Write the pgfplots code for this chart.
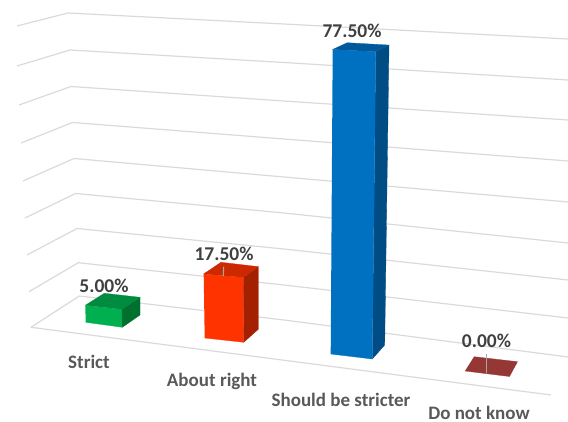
\documentclass[border=0pt]{standalone}
\usepackage{fontspec}
\setmainfont{Carlito}
\usepackage{pgfplots}
\pgfplotsset{compat=1.18}
\definecolor{gridc}{HTML}{DADADA}
\definecolor{catc}{HTML}{595959}
\definecolor{valc}{HTML}{404040}
\definecolor{leader}{HTML}{A6A6A6}
\definecolor{gF}{HTML}{00B050}
\definecolor{gT}{HTML}{008C40}
\definecolor{gS}{HTML}{00702F}
\definecolor{oF}{HTML}{FF3300}
\definecolor{oT}{HTML}{CC2900}
\definecolor{oS}{HTML}{A32100}
\definecolor{bF}{HTML}{0070C0}
\definecolor{bT}{HTML}{00599A}
\definecolor{bS}{HTML}{004C84}
\definecolor{rF}{HTML}{953735}
\pgfplotsset{
  face/.style={fill=#1, draw=#1, line width=0.3pt},
  grid wall/.style={gridc, line width=1.2pt, no markers},
  /pgfplots/table/vertex/.style={x=x, y expr=\thisrow{y0}-\thisrow{v}*\thisrow{k}},
}
\newcommand{\vallabel}[3]{\node[inner sep=0pt, font=\fontsize{19.5}{21}\selectfont\bfseries, text=valc] at (axis cs:#1,#2) {#3};}
\newcommand{\catlabel}[3]{\node[inner sep=0pt, font=\fontsize{19}{21}\selectfont\bfseries, text=catc] at (axis cs:#1,#2) {#3};}
\begin{document}
\begin{tikzpicture}
\path[use as bounding box] (0,0) rectangle (568pt,422pt);
\begin{axis}[
  at={(0,0)}, anchor=south west,
  scale only axis, width=568pt, height=422pt,
  xmin=0, xmax=568, ymin=0, ymax=422, y dir=reverse,
  hide axis,
]
% floor and wall gridlines, 0% to 80%
\addplot[grid wall] coordinates {(31,327.3) (79.3,296) (284,320) (568,357)};
\addplot[grid wall] coordinates {(31,327.3) (551,395)};
\addplot[grid wall] coordinates {(29,291.7) (78.3,262.7) (284,285) (568,318)};
\addplot[grid wall] coordinates {(27,255) (77,228.5) (284,249) (568,280)};
\addplot[grid wall] coordinates {(25,218) (75.5,193.5) (284,213) (568,243)};
\addplot[grid wall] coordinates {(23,181) (74,158.5) (284,177) (568,202)};
\addplot[grid wall] coordinates {(21,143) (72.5,122.5) (284,139) (568,161)};
\addplot[grid wall] coordinates {(19,105) (71,86.5) (284,101) (568,120)};
\addplot[grid wall] coordinates {(17,66) (70,50) (284,62.5) (568,80)};
\addplot[grid wall] coordinates {(17,26) (68,13) (284,24) (568,39)};

% Strict, 5.00%
\addplot[face=gF] table[vertex] {
x y0 v k
85.3 322.3 5 3.40
121.7 327.3 5 3.60
122.3 327.3 0 3.60
85.7 322.3 0 3.40
};
\addplot[face=gS] table[vertex] {
x y0 v k
121.7 327.3 5 3.60
140 315 5 3.54
140 315 0 3.54
122.3 327.3 0 3.60
};
\addplot[face=gT] table[vertex] {
x y0 v k
85.3 322.3 5 3.40
104.3 310.8 5 3.50
140 315 5 3.54
121.7 327.3 5 3.60
};

% About right, 17.50%
\addplot[face=oF] table[vertex] {
x y0 v k
203.7 338 17.5 3.66
243.3 342.3 17.5 3.71
243.7 342.3 0 3.71
204.7 338 0 3.66
};
\addplot[face=oS] table[vertex] {
x y0 v k
243.3 342.3 17.5 3.71
258.3 329.3 17.5 3.58
258.3 329.3 0 3.58
243.7 342.3 0 3.71
};
\addplot[face=oT] table[vertex] {
x y0 v k
203.7 338 17.5 3.66
221 325.3 17.5 3.60
258.3 329.3 17.5 3.58
243.3 342.3 17.5 3.71
};
\addplot[leader, line width=1.1pt, no markers] coordinates {(223.7,266.7) (223.3,276)};

% Should be stricter, 77.50%
\addplot[face=bS] table[vertex] {
x y0 v k
375.7 359 77.5 3.965
389 345 77.5 3.87
384.7 345 0 3.87
372.3 359 0 3.965
};
\addplot[face=bF] table[vertex] {
x y0 v k
332.7 354 77.5 3.93
375.7 359 77.5 3.965
372.3 359 0 3.965
330.7 354 0 3.93
};
\addplot[face=bT] table[vertex] {
x y0 v k
332.7 354 77.5 3.93
347.3 345 77.5 3.90
389 345 77.5 3.87
375.7 359 77.5 3.965
};

% Do not know, 0.00%
\addplot[face=rF] table[vertex] {
x y0 v k
474 356.7 0 3.9
517.5 361.7 0 3.9
509.5 376.5 0 3.9
465 371 0 3.9
};
\addplot[leader, line width=1.1pt, no markers] coordinates {(486.7,354) (486.7,373.3)};

% values above the bars
\vallabel{104}{286}{5.00\%}
\vallabel{224}{254}{17.50\%}
\vallabel{352}{31}{77.50\%}
\vallabel{486.5}{341}{0.00\%}

% category names
\catlabel{89}{362}{Strict}
\catlabel{212}{381}{About right}
\catlabel{341}{400}{Should be stricter}
\catlabel{479}{413}{Do not know}
\end{axis}
\end{tikzpicture}
\end{document}
